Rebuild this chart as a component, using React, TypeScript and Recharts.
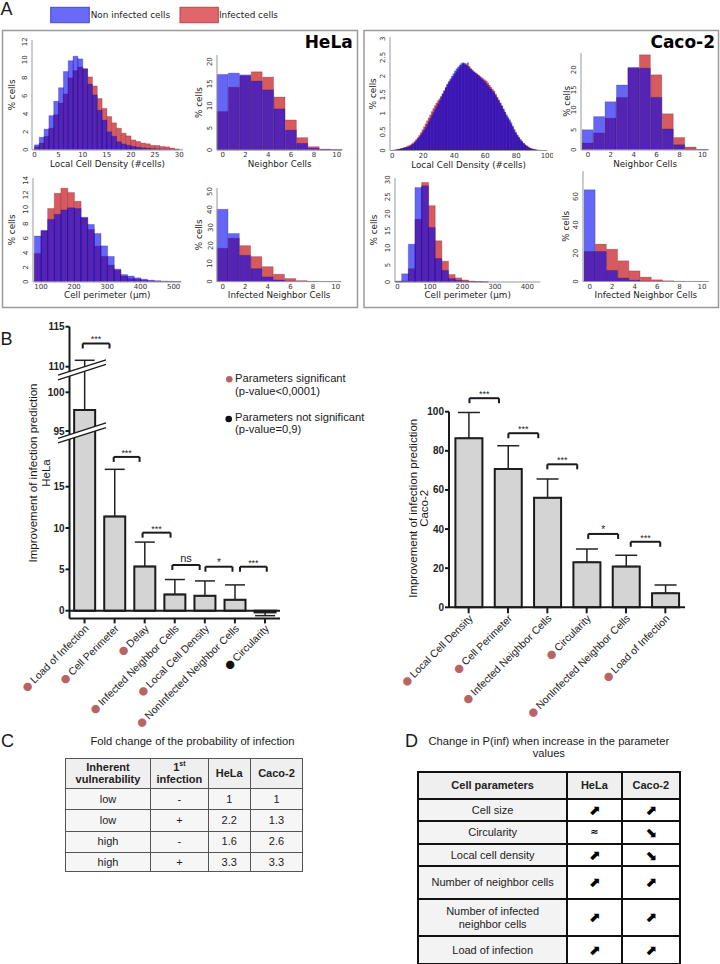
import React from 'react';
import { ComposedChart, Bar, XAxis, YAxis, ReferenceLine, ErrorBar, Label } from 'recharts';

// ---------- panel A : histograms (% cells) ----------
const HELA_DENSITY_NON = [0.55, 1.4, 2.3, 3.8, 5.4, 6.9, 8.7, 9.9, 10.4, 10.1, 9.0, 7.3, 6.1, 4.4, 3.3, 2.0, 1.5, 0.9, 0.65, 0.5, 0.38, 0.3, 0.22, 0.17, 0.13, 0.1, 0.08, 0.06, 0.04, 0.02];
const HELA_DENSITY_INF = [0.35, 0.75, 1.5, 2.4, 3.9, 5.2, 6.2, 8.0, 8.8, 9.2, 9.0, 8.1, 7.1, 5.7, 4.6, 3.7, 3.0, 2.4, 1.85, 1.55, 1.1, 0.93, 0.75, 0.67, 0.5, 0.48, 0.37, 0.33, 0.2, 0.1];

const HELA_NEIGH_NON = [17.1, 17.4, 17.0, 15.6, 13.6, 9.3, 4.5, 1.5, 0.4, 0.1, 0.03];
const HELA_NEIGH_INF = [8.7, 14.2, 16.8, 17.7, 16.5, 12.0, 6.8, 2.8, 0.75, 0.2, 0.05];

const HELA_PERIM_NON = [6.3, 7.1, 8.6, 9.3, 9.9, 10.2, 10.1, 8.9, 7.9, 6.65, 4.95, 3.5, 1.75, 1.0, 0.8, 0.55, 0.37, 0.23, 0.15, 0.1, 0.07, 0.04];
const HELA_PERIM_INF = [3.9, 7.0, 10.1, 12.2, 12.9, 12.3, 11.1, 8.8, 7.2, 4.9, 3.5, 2.3, 1.6, 0.8, 0.45, 0.35, 0.2, 0.12, 0.08, 0.05, 0.03, 0.02];

const HELA_INFNB_NON = [40.2, 26.7, 14.6, 7.2, 2.6, 0.9, 0.3, 0.1, 0.03, 0, 0];
const HELA_INFNB_INF = [18.5, 24.1, 20.0, 13.9, 8.3, 4.1, 1.7, 0.55, 0.2, 0.1, 0.05];

const CACO_DENSITY_NON = [
  0.01, 0.02, 0.02, 0.03, 0.04, 0.05, 0.06, 0.07, 0.08, 0.09,
  0.10, 0.12, 0.15, 0.18, 0.22, 0.27, 0.32, 0.37, 0.43, 0.49,
  0.55, 0.62, 0.70, 0.78, 0.86, 0.94, 1.02, 1.10, 1.18, 1.26,
  1.34, 1.43, 1.52, 1.61, 1.70, 1.79, 1.86, 1.93, 2.00, 2.07,
  2.14, 2.20, 2.25, 2.30, 2.34, 2.36, 2.35, 2.31, 2.27, 2.23,
  2.19, 2.15, 2.11, 2.08, 2.04, 2.01, 1.97, 1.93, 1.89, 1.85,
  1.80, 1.75, 1.70, 1.65, 1.60, 1.55, 1.48, 1.41, 1.34, 1.27,
  1.20, 1.12, 1.04, 0.96, 0.89, 0.83, 0.75, 0.66, 0.57, 0.49,
  0.42, 0.36, 0.30, 0.25, 0.20, 0.16, 0.13, 0.10, 0.07, 0.05,
  0.04, 0.03, 0.02, 0.015, 0.01, 0.005,
];
const CACO_DENSITY_INF = [
  0.01, 0.01, 0.02, 0.03, 0.04, 0.05, 0.06, 0.08, 0.09, 0.11,
  0.13, 0.15, 0.18, 0.21, 0.25, 0.30, 0.35, 0.41, 0.48, 0.56,
  0.64, 0.72, 0.80, 0.88, 0.96, 1.05, 1.13, 1.21, 1.28, 1.34,
  1.39, 1.46, 1.53, 1.60, 1.68, 1.76, 1.82, 1.88, 1.94, 2.00,
  2.06, 2.12, 2.18, 2.23, 2.28, 2.32, 2.31, 2.30, 2.36, 2.26,
  2.20, 2.16, 2.12, 2.09, 2.06, 2.03, 1.99, 1.96, 1.93, 1.90,
  1.87, 1.82, 1.76, 1.70, 1.65, 1.60, 1.52, 1.44, 1.36, 1.28,
  1.20, 1.11, 1.02, 0.93, 0.85, 0.78, 0.70, 0.62, 0.54, 0.47,
  0.40, 0.34, 0.28, 0.23, 0.19, 0.15, 0.12, 0.09, 0.07, 0.05,
  0.04, 0.03, 0.02, 0.01, 0.01, 0.005,
];

const CACO_NEIGH_NON = [5.0, 8.3, 12.0, 16.2, 20.6, 20.4, 13.1, 5.2, 1.25, 0.2, 0.05];
const CACO_NEIGH_INF = [1.7, 4.2, 7.9, 13.1, 20.4, 23.75, 18.75, 9.0, 3.1, 0.7, 0.1];

const CACO_PERIM_NON = [0.3, 2.4, 11.1, 27.7, 28.2, 16.0, 6.9, 3.4, 1.0, 0.5, 0.25, 0.1, 0.05, 0.02];
const CACO_PERIM_INF = [0.1, 0.3, 3.9, 18.4, 29.2, 22.4, 12.1, 6.1, 2.2, 1.2, 0.6, 0.3, 0.15, 0.05];

const CACO_INFNB_NON = [64.7, 21.2, 7.8, 2.4, 0.9, 0.3, 0.1, 0.05, 0, 0, 0];
const CACO_INFNB_INF = [21.2, 26.4, 22.8, 14.6, 7.5, 3.1, 1.2, 0.5, 0.2, 0.1, 0.05];

// ---------- panel B : improvement of infection prediction ----------
const HELA_PARAMS = ['Load of Infection', 'Cell Perimeter', 'Delay', 'Infected Neighbor Cells', 'Local Cell Density', 'NonInfected Neighbor Cells', 'Circularity'];
const HELA_VALUES = [97.7, 11.4, 5.35, 1.97, 1.8, 1.32, -0.2];
const HELA_ERRORS = [13.1, 5.7, 2.95, 1.8, 1.8, 1.8, 0.4];
const HELA_SIGNIFICANT = [true, true, true, true, true, true, false];
const HELA_TICKS = [0, 5, 10, 15, 95, 100, 110, 115];

const CACO_PARAMS = ['Local Cell Density', 'Cell Perimeter', 'Infected Neighbor Cells', 'Circularity', 'NonInfected Neighbor Cells', 'Load of Infection'];
const CACO_VALUES = [86.4, 70.7, 56.0, 23.0, 20.8, 7.2];
const CACO_ERRORS = [13.2, 11.9, 9.6, 6.8, 5.8, 4.2];
const CACO_TICKS = [0, 20, 40, 60, 80, 100];

const HELA_BRACKETS = [
  { from: -0.06, to: 0.83, y: 112.9, label: '***' },
  { from: 0.97, to: 1.83, y: 18.6, label: '***' },
  { from: 1.93, to: 2.86, y: 9.44, label: '***' },
  { from: 2.92, to: 3.83, y: 5.53, label: 'ns' },
  { from: 4.02, to: 4.92, y: 5.32, label: '*' },
  { from: 5.17, to: 6.06, y: 5.32, label: '***' },
];
const CACO_BRACKETS = [
  { from: 0.02, to: 0.77, y: 106.9, label: '***' },
  { from: 1.01, to: 1.77, y: 89.0, label: '***' },
  { from: 2.0, to: 2.76, y: 73.1, label: '***' },
  { from: 3.04, to: 3.8, y: 37.5, label: '*' },
  { from: 4.12, to: 4.87, y: 33.5, label: '***' },
];

// broken y axis of the HeLa chart: three segments squeezed into one scale
const BREAK_IN = [-0.93, 20.8, 94.5, 102.3, 109.2, 115];
const BREAK_OUT = [-0.93, 20.8, 21.27, 28.57, 28.74, 34.35];
const brk = (v: number) => {
  let k = 0;
  while (k < BREAK_IN.length - 2 && v > BREAK_IN[k + 1]) k++;
  const a = BREAK_IN[k], b = BREAK_IN[k + 1];
  return BREAK_OUT[k] + ((v - a) / (b - a)) * (BREAK_OUT[k + 1] - BREAK_OUT[k]);
};

// ---------- panels C and D ----------
const C_VULN = ['low', 'low', 'high', 'high'];
const C_FIRST = ['-', '+', '-', '+'];
const C_HELA = ['1', '2.2', '1.6', '3.3'];
const C_CACO = ['1', '1.3', '2.6', '3.3'];

const D_PARAMS = ['Cell size', 'Circularity', 'Local cell density', 'Number of neighbor cells', 'Number of infected|neighbor cells', 'Load of infection'];
const D_HELA = ['up', 'same', 'up', 'up', 'up', 'up'];
const D_CACO = ['up', 'down', 'down', 'up', 'up', 'up'];

const BLUE = '#0000f0';
const RED = '#d65a5e';
const DOT = '#b86464';
const INK = '#1a1a1a';
const MPL = 'DejaVu Sans';
const SANS = 'Liberation Sans, Arial, sans-serif';

type HistSpec = {
  start: number; width: number; non: number[]; inf: number[];
  xDomain: [number, number]; yDomain: [number, number]; xTicks: number[]; yTicks: number[];
  x0: number; x1: number; yTop: number; yBottom: number;
  xLabel: string; labelBase: number; yLabelX: number; edge?: number;
};

const RotTick = (p: any) => (
  <text x={p.x} y={p.y} transform={`rotate(-90 ${p.x} ${p.y})`} textAnchor="middle" fontSize={7} fill="#333" fontFamily={MPL}>
    {p.payload.value}
  </text>
);

function Hist({ s }: { s: HistSpec }) {
  const YW = 26, MT = 6, MR = 6;
  const XH = s.labelBase - s.yBottom + 3;
  const pw = s.x1 - s.x0;
  const ph = s.yBottom - s.yTop;
  const data = s.non.map((v, i) => ({ x: s.start + s.width * (i + 0.5), non: v, inf: s.inf[i] }));
  const edge = s.edge ?? 0.4;
  return (
    <div style={{ position: 'absolute', left: s.x0 - YW, top: s.yTop - MT }}>
      <ComposedChart width={pw + YW + MR} height={ph + MT + XH} data={data}
        margin={{ top: MT, right: MR, bottom: 0, left: 0 }} barCategoryGap={0} barGap={0}>
        <XAxis xAxisId="a" dataKey="x" type="number" domain={s.xDomain} ticks={s.xTicks} interval={0}
          height={XH} tickLine={false} tickSize={0} tickMargin={2.5} axisLine={{ stroke: '#999' }}
          tick={{ fontSize: 7, fill: '#333', fontFamily: MPL }}>
          <Label value={s.xLabel} position="insideBottom" offset={3}
            style={{ fontSize: 8.8, fill: '#222', fontFamily: MPL }} />
        </XAxis>
        <XAxis xAxisId="b" dataKey="x" type="number" domain={s.xDomain} height={0} hide />
        <YAxis width={YW} domain={s.yDomain} ticks={s.yTicks} interval={0} tickLine={false}
          tickSize={0} tickMargin={4.5} axisLine={{ stroke: '#999' }} tick={<RotTick />}>
          <Label value="% cells" angle={-90} position="insideLeft" offset={s.yLabelX - (s.x0 - YW)}
            style={{ textAnchor: 'middle', fontSize: 8.8, fill: '#222', fontFamily: MPL }} />
        </YAxis>
        <Bar xAxisId="b" dataKey="inf" fill={RED} stroke="#5a2030" strokeWidth={edge} strokeOpacity={0.6}
          isAnimationActive={false} />
        <Bar xAxisId="a" dataKey="non" fill={BLUE} fillOpacity={0.6} stroke="#201060" strokeWidth={edge}
          strokeOpacity={0.6} isAnimationActive={false} />
      </ComposedChart>
    </div>
  );
}

const HISTS: HistSpec[] = [
  { start: 0, width: 1, non: HELA_DENSITY_NON, inf: HELA_DENSITY_INF, xDomain: [-0.5, 30.8], yDomain: [0, 12.2],
    xTicks: [0, 5, 10, 15, 20, 25, 30], yTicks: [0, 2, 4, 6, 8, 10, 12], x0: 31.9, x1: 182.9, yTop: 40.2, yBottom: 150,
    xLabel: 'Local Cell Density (#cells)', labelBase: 167.5, yLabelX: 11.7 },
  { start: -0.5, width: 1, non: HELA_NEIGH_NON, inf: HELA_NEIGH_INF, xDomain: [-0.5, 10.5], yDomain: [0, 21.5],
    xTicks: [0, 2, 4, 6, 8, 10], yTicks: [0, 5, 10, 15, 20], x0: 217.3, x1: 342.7, yTop: 55, yBottom: 150,
    xLabel: 'Neighbor Cells', labelBase: 167.5, yLabelX: 199.3 },
  { start: 80, width: 20, non: HELA_PERIM_NON, inf: HELA_PERIM_INF, xDomain: [76, 524], yDomain: [0, 14.3],
    xTicks: [100, 200, 300, 400, 500], yTicks: [0, 2, 4, 6, 8, 10, 12, 14], x0: 32.7, x1: 181.3, yTop: 177.9, yBottom: 281.7,
    xLabel: 'Cell perimeter (µm)', labelBase: 298, yLabelX: 11.7 },
  { start: -0.5, width: 1, non: HELA_INFNB_NON, inf: HELA_INFNB_INF, xDomain: [-0.5, 10.5], yDomain: [0, 52],
    xTicks: [0, 2, 4, 6, 8, 10], yTicks: [0, 10, 20, 30, 40, 50], x0: 217.35, x1: 341.65, yTop: 188.1, yBottom: 281.7,
    xLabel: 'Infected Neighbor Cells', labelBase: 298, yLabelX: 199.3 },
  { start: 0, width: 1, non: CACO_DENSITY_NON, inf: CACO_DENSITY_INF, xDomain: [-1.5, 100], yDomain: [0, 3.05],
    xTicks: [0, 20, 40, 60, 80, 100], yTicks: [0, 0.5, 1, 1.5, 2, 2.5, 3], x0: 390.2, x1: 547.5, yTop: 36.5, yBottom: 150,
    xLabel: 'Local Cell Density (#cells)', labelBase: 167.5, yLabelX: 373.3, edge: 0.2 },
  { start: -0.5, width: 1, non: CACO_NEIGH_NON, inf: CACO_NEIGH_INF, xDomain: [-0.6, 10.6], yDomain: [0, 24.2],
    xTicks: [0, 2, 4, 6, 8, 10], yTicks: [0, 5, 10, 15, 20], x0: 581.4, x1: 709.6, yTop: 53.2, yBottom: 150,
    xLabel: 'Neighbor Cells', labelBase: 167.5, yLabelX: 567 },
  { start: -8, width: 20.5, non: CACO_PERIM_NON, inf: CACO_PERIM_INF, xDomain: [-8, 440], yDomain: [0, 30.5],
    xTicks: [0, 100, 200, 300, 400], yTicks: [0, 5, 10, 15, 20, 25, 30], x0: 394.9, x1: 540.2, yTop: 177.7, yBottom: 281.7,
    xLabel: 'Cell perimeter (µm)', labelBase: 298, yLabelX: 373.3 },
  { start: -0.5, width: 1, non: CACO_INFNB_NON, inf: CACO_INFNB_INF, xDomain: [-0.6, 10.6], yDomain: [0, 78],
    xTicks: [0, 2, 4, 6, 8, 10], yTicks: [0, 20, 40, 60], x0: 582.6, x1: 708.4, yTop: 171.2, yBottom: 281.7,
    xLabel: 'Infected Neighbor Cells', labelBase: 298, yLabelX: 565.7 },
];

// category labels rotated -45 with a coloured dot in front
const makeCatTick = (names: string[], dots: string[]) => (p: any) => {
  const i = p.payload.value;
  return (
    <g transform={`translate(${p.x + 2},${p.y + 3}) rotate(-45)`}>
      <text textAnchor="end" dominantBaseline="central" fontSize={10.5} fontFamily={SANS} fill="#222">
        <tspan fill={dots[i]} fontFamily={MPL} fontSize={11}>●</tspan>
        <tspan dx={2}>{names[i]}</tspan>
      </text>
    </g>
  );
};

type Bracket = { from: number; to: number; y: number; label: string };
const bracketLines = (b: Bracket, key: string, y: number, leg: number) => {
  const fs = b.label === 'ns' ? 11 : b.label === '*' ? 10 : 9;
  const off = b.label === 'ns' ? 2.5 : 1;
  const common = { stroke: INK, strokeWidth: 2, ifOverflow: 'visible' as const };
  return [
    <ReferenceLine key={key + 'h'} segment={[{ x: b.from, y }, { x: b.to, y }]} {...common}
      label={{ value: b.label, position: 'top', offset: off, fontSize: fs, fill: '#222', fontFamily: SANS }} />,
    <ReferenceLine key={key + 'l'} segment={[{ x: b.from, y }, { x: b.from, y: y - leg }]} {...common} />,
    <ReferenceLine key={key + 'r'} segment={[{ x: b.to, y }, { x: b.to, y: y - leg }]} {...common} />,
  ];
};

const axisStyle = { stroke: INK, strokeWidth: 2 };
const tickFont = { fontSize: 10, fontWeight: 700, fill: '#222', fontFamily: SANS };

function HelaBars() {
  const TOP = 300, W = 300, PL = 69.5, PR = 280, PT = 326.7, PB = 618.4, XH = 120;
  const data = HELA_PARAMS.map((name, i) => {
    const v = HELA_VALUES[i], e = HELA_ERRORS[i];
    const t = brk(v);
    const err = v >= 0 ? [0, brk(v + e) - t] : [t - brk(v - e), 0];
    return { i, name, t, err };
  });
  const tickT = HELA_TICKS.map(brk);
  const pxPerT = (PB - PT) / (brk(115) - brk(-0.93));
  const dots = HELA_SIGNIFICANT.map((s) => (s ? DOT : '#111'));
  return (
    <div style={{ position: 'absolute', left: 0, top: TOP }}>
      <ComposedChart width={W} height={PB - TOP + XH} data={data}
        margin={{ top: PT - TOP, right: W - PR, bottom: 0, left: 0 }} barCategoryGap="15.5%">
        <XAxis dataKey="i" type="number" domain={[-0.5, HELA_PARAMS.length - 0.5]} ticks={HELA_PARAMS.map((_, i) => i)}
          interval={0} height={XH} tickSize={5} tickMargin={0} axisLine={axisStyle} tickLine={axisStyle}
          tick={makeCatTick(HELA_PARAMS, dots)} />
        <YAxis width={PL} domain={[brk(-0.93), brk(115)]} ticks={tickT} interval={0}
          tickFormatter={(v: number) => String(HELA_TICKS[tickT.findIndex((t) => Math.abs(t - v) < 1e-6)])}
          tickSize={4} tickMargin={1} axisLine={axisStyle} tickLine={axisStyle} tick={tickFont} />
        <ReferenceLine y={0} stroke={INK} strokeWidth={2} />
        <Bar dataKey="t" fill="#d4d4d4" stroke={INK} strokeWidth={2} isAnimationActive={false}>
          <ErrorBar dataKey="err" width={10} stroke="#222" strokeWidth={1.5} direction="y" />
        </Bar>
        {HELA_BRACKETS.map((b, k) => bracketLines(b, 'hb' + k, brk(b.y), 5 / pxPerT))}
      </ComposedChart>
    </div>
  );
}

function CacoBars() {
  const LEFT = 370, TOP = 370, W = 330, PL = 449, PR = 685, PT = 411.7, PB = 607.3, XH = 130;
  const data = CACO_PARAMS.map((name, i) => ({ i, name, v: CACO_VALUES[i], err: [0, CACO_ERRORS[i]] }));
  const pxPerUnit = (PB - PT) / 100;
  const dots = CACO_PARAMS.map(() => DOT);
  return (
    <div style={{ position: 'absolute', left: LEFT, top: TOP }}>
      <ComposedChart width={W} height={PB - TOP + XH} data={data}
        margin={{ top: PT - TOP, right: LEFT + W - PR, bottom: 0, left: 0 }} barCategoryGap="16.3%">
        <XAxis dataKey="i" type="number" domain={[-0.5, CACO_PARAMS.length - 0.5]} ticks={CACO_PARAMS.map((_, i) => i)}
          interval={0} height={XH} tickSize={6} tickMargin={0} axisLine={axisStyle} tickLine={axisStyle}
          tick={makeCatTick(CACO_PARAMS, dots)} />
        <YAxis width={PL - LEFT} domain={[0, 100]} ticks={CACO_TICKS} interval={0}
          tickSize={4} tickMargin={1} axisLine={axisStyle} tickLine={axisStyle} tick={tickFont} />
        <Bar dataKey="v" fill="#d4d4d4" stroke={INK} strokeWidth={2} isAnimationActive={false}>
          <ErrorBar dataKey="err" width={11} stroke="#222" strokeWidth={1.5} direction="y" />
        </Bar>
        {CACO_BRACKETS.map((b, k) => bracketLines(b, 'cb' + k, b.y, 5 / pxPerUnit))}
      </ComposedChart>
    </div>
  );
}

const cell = (extra: React.CSSProperties = {}): React.CSSProperties => ({
  border: '1px solid #555', textAlign: 'center', verticalAlign: 'middle', padding: 0, lineHeight: '12.5px', ...extra,
});

function TableC() {
  const rows = [30, 21.5, 21.5, 21, 19.5];
  return (
    <table style={{ position: 'absolute', left: 65, top: 757.7, width: 237.3, borderCollapse: 'collapse',
      tableLayout: 'fixed', fontFamily: SANS, fontSize: 11, color: '#222' }}>
      <colgroup>
        <col style={{ width: 85 }} /><col style={{ width: 57.7 }} /><col style={{ width: 42 }} /><col style={{ width: 52.6 }} />
      </colgroup>
      <tbody>
        <tr style={{ height: rows[0] }}>
          <td style={cell({ fontWeight: 700, background: '#efefef' })}>Inherent<br />vulnerability</td>
          <td style={cell({ fontWeight: 700, background: '#efefef' })}>1<sup style={{ fontSize: 7, lineHeight: 0 }}>st</sup><br />infection</td>
          <td style={cell({ fontWeight: 700, background: '#efefef' })}>HeLa</td>
          <td style={cell({ fontWeight: 700, background: '#efefef' })}>Caco-2</td>
        </tr>
        {C_VULN.map((v, i) => (
          <tr key={i} style={{ height: rows[i + 1] }}>
            <td style={cell({ background: '#f6f6f6' })}>{v}</td>
            <td style={cell({ background: '#f6f6f6' })}>{C_FIRST[i]}</td>
            <td style={cell({ background: '#f6f6f6' })}>{C_HELA[i]}</td>
            <td style={cell({ background: '#f6f6f6' })}>{C_CACO[i]}</td>
          </tr>
        ))}
      </tbody>
    </table>
  );
}

const ARROW: Record<string, string> = { up: '⬈', down: '⬊', same: '≈' };

function TableD() {
  const rows = [26.7, 22.3, 22.7, 22.6, 32.7, 37.3, 27.7];
  const b = '2px solid #111';
  const dc = (extra: React.CSSProperties = {}) => cell({ border: b, ...extra });
  return (
    <table style={{ position: 'absolute', left: 417.3, top: 771, width: 261.7, borderCollapse: 'collapse',
      tableLayout: 'fixed', fontFamily: SANS, fontSize: 11, color: '#222' }}>
      <colgroup>
        <col style={{ width: 148.7 }} /><col style={{ width: 54.7 }} /><col style={{ width: 58.3 }} />
      </colgroup>
      <tbody>
        <tr style={{ height: rows[0] }}>
          <td style={dc({ fontWeight: 700, background: '#efefef' })}>Cell parameters</td>
          <td style={dc({ fontWeight: 700, background: '#efefef' })}>HeLa</td>
          <td style={dc({ fontWeight: 700, background: '#efefef' })}>Caco-2</td>
        </tr>
        {D_PARAMS.map((p, i) => (
          <tr key={i} style={{ height: rows[i + 1] }}>
            <td style={dc({ background: '#f3f3f3' })}>
              {p.split('|').map((s, k) => (<React.Fragment key={k}>{k > 0 && <br />}{s}</React.Fragment>))}
            </td>
            <td style={dc({ fontFamily: MPL, fontWeight: 700, fontSize: D_HELA[i] === 'same' ? 10 : 14, color: '#000' })}>{ARROW[D_HELA[i]]}</td>
            <td style={dc({ fontFamily: MPL, fontWeight: 700, fontSize: 14, color: '#000' })}>{ARROW[D_CACO[i]]}</td>
          </tr>
        ))}
      </tbody>
    </table>
  );
}

// white break bands across the HeLa y axis
const band = (yc: number, key: string) => {
  const xa = 58, xb = 106, ax = 69.5, s = 0.32, h = 2.3;
  const ya = yc + s * (ax - xa), yb = yc - s * (xb - ax);
  return (
    <g key={key}>
      <polygon points={`${xa},${ya - h} ${xb},${yb - h} ${xb},${yb + h} ${xa},${ya + h}`} fill="#fff" />
      <line x1={xa} y1={ya - h} x2={xb} y2={yb - h} stroke={INK} strokeWidth={1.3} />
      <line x1={xa} y1={ya + h} x2={xb} y2={yb + h} stroke={INK} strokeWidth={1.3} />
    </g>
  );
};

function Overlay() {
  const t = { fontFamily: SANS, fill: '#1a1a1a' };
  return (
    <svg width={720} height={964} style={{ position: 'absolute', left: 0, top: 0, pointerEvents: 'none', zIndex: 5 }}>
      {/* panel letters */}
      <text x={0.5} y={15} fontSize={18} {...t}>A</text>
      <text x={0.5} y={345} fontSize={18} {...t}>B</text>
      <text x={1} y={747} fontSize={18} {...t}>C</text>
      <text x={405} y={747} fontSize={18} {...t}>D</text>

      {/* legend of panel A */}
      <rect x={50.7} y={7.3} width={38.6} height={15.4} fill="#6a6af8" stroke="#4848c8" strokeWidth={1} />
      <text x={90.7} y={15} fontSize={8.9} fontFamily={MPL} fill="#222" dominantBaseline="central">Non infected cells</text>
      <rect x={180} y={7.3} width={38.3} height={15.4} fill="#e0666c" stroke="#c04048" strokeWidth={1} />
      <text x={219} y={15} fontSize={8.9} fontFamily={MPL} fill="#222" dominantBaseline="central">Infected cells</text>

      {/* frames of panel A */}
      <rect x={2.5} y={30.5} width={355} height={277} fill="none" stroke="#9a9a9a" strokeWidth={1.5} />
      <rect x={364} y={30.5} width={354.5} height={277} fill="none" stroke="#9a9a9a" strokeWidth={1.5} />
      <text x={352.7} y={48.3} textAnchor="end" fontSize={17} fontWeight={700} fontFamily={MPL} fill="#000">HeLa</text>
      <text x={715} y={48.3} textAnchor="end" fontSize={17} fontWeight={700} fontFamily={MPL} fill="#000">Caco-2</text>

      {/* axis break */}
      {band(373.8, 'b1')}
      {band(436.9, 'b2')}

      {/* y titles of panel B */}
      <text x={33} y={473} transform="rotate(-90 33 473)" textAnchor="middle" dominantBaseline="central" fontSize={11.5} {...t}>Improvement of infection prediction</text>
      <text x={46} y={473} transform="rotate(-90 46 473)" textAnchor="middle" dominantBaseline="central" fontSize={11.5} {...t}>HeLa</text>
      <text x={412.8} y={508.3} transform="rotate(-90 412.8 508.3)" textAnchor="middle" dominantBaseline="central" fontSize={11.5} {...t}>Improvement of infection prediction</text>
      <text x={423.8} y={508.3} transform="rotate(-90 423.8 508.3)" textAnchor="middle" dominantBaseline="central" fontSize={11.5} {...t}>Caco-2</text>

      {/* legend of panel B */}
      <circle cx={229.3} cy={379.3} r={3.3} fill={DOT} />
      <text x={235} y={378.3} fontSize={11.2} dominantBaseline="central" {...t}>Parameters significant</text>
      <text x={235} y={390.5} fontSize={11.2} dominantBaseline="central" {...t}>(p-value&lt;0,0001)</text>
      <circle cx={228.7} cy={419} r={3.3} fill="#111" />
      <text x={235} y={416.7} fontSize={11.2} dominantBaseline="central" {...t}>Parameters not significant</text>
      <text x={235} y={428.8} fontSize={11.2} dominantBaseline="central" {...t}>(p-value=0,9)</text>

      {/* titles of C and D */}
      <text x={192.5} y={740.7} textAnchor="middle" dominantBaseline="central" fontSize={11.2} {...t}>Fold change of the probability of infection</text>
      <text x={548.8} y={740.7} textAnchor="middle" dominantBaseline="central" fontSize={11.2} {...t}>Change in P(inf) when increase in the parameter</text>
      <text x={548.8} y={753.3} textAnchor="middle" dominantBaseline="central" fontSize={11.2} {...t}>values</text>
    </svg>
  );
}

export default function App() {
  return (
    <div style={{ position: 'absolute', left: 0, top: 0, width: 720, height: 964, background: '#fff', overflow: 'hidden' }}>
      {HISTS.map((s, i) => (<Hist key={i} s={s} />))}
      <HelaBars />
      <CacoBars />
      <TableC />
      <TableD />
      <Overlay />
    </div>
  );
}
